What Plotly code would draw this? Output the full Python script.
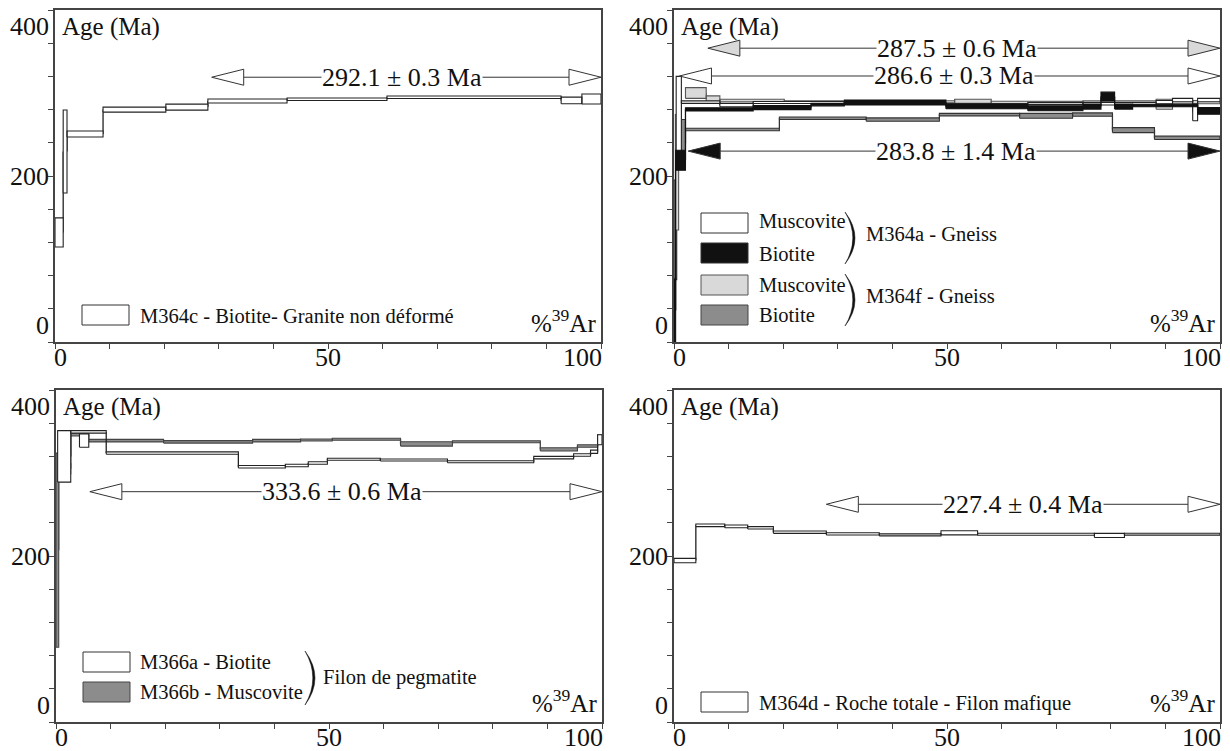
import plotly.graph_objects as go

W, H = 1230, 751
FONT = "Liberation Serif"

# ---------------- data (cumulative %39Ar start/end, age Ma, 1-sigma half height) ----------------
# Panel 1 : M364c - Biotite - Granite non déformé
c_x0 = [0.0, 1.5, 2.2, 8.8, 20.3, 28.0, 42.5, 60.8, 92.7, 96.5]
c_x1 = [1.5, 2.2, 8.8, 20.3, 28.0, 42.5, 60.8, 92.7, 96.5, 100.0]
c_age = [132, 229.5, 250.6, 280, 283, 290.4, 292.4, 294.8, 291, 292.8]
c_err = [17.5, 50, 3.6, 3, 3.6, 2.4, 1.5, 1.5, 4, 6]

# Panel 2 : M364a / M364f - Gneiss
a_mus_x0 = [0.4, 1.35, 8.4, 14.5, 31.2, 49.8, 64.8, 74.9, 88.3, 91.3, 95.0, 95.9]
a_mus_x1 = [1.35, 8.4, 14.5, 31.2, 49.8, 64.8, 74.9, 88.3, 91.3, 95.0, 95.9, 100.0]
a_mus_age = [266, 289, 285.5, 288.5, 287.5, 286, 287.5, 287, 289, 291.5, 276.6, 291.5]
a_mus_err = [54, 1.5, 2, 1.2, 1, 1.2, 1.2, 1.5, 2, 2, 10, 2]

a_bio_x0 = [0.0, 0.3, 2.1, 14.5, 25.1, 31.2, 49.8, 64.8, 74.9, 78.2, 80.7, 84.0, 95.9]
a_bio_x1 = [0.3, 2.1, 14.5, 25.1, 31.2, 49.8, 64.8, 74.9, 78.2, 80.7, 84.0, 95.9, 100.0]
a_bio_age = [38, 219, 280.3, 282.5, 286, 288.5, 283.5, 281.7, 283.6, 295.7, 283.6, 285, 278.5]
a_bio_err = [38, 12, 2, 2.5, 1.5, 3, 2.5, 3, 3, 5.3, 3, 1.5, 4]

f_mus_x0 = [0.25, 2.1, 5.9, 8.4, 20.2, 51.4, 58.1, 74.9, 88.3, 91.3]
f_mus_x1 = [0.85, 5.9, 8.4, 20.2, 51.4, 58.1, 74.9, 88.3, 91.3, 100.0]
f_mus_age = [204.5, 300, 292.5, 291, 289.5, 290, 288.5, 289, 286.5, 289]
f_mus_err = [69.5, 6.5, 4, 1.5, 1.2, 2.5, 1.5, 1.5, 6, 2]

f_bio_x0 = [0.0, 0.5, 2.1, 19.3, 35.2, 48.6, 63.3, 73.0, 80.3, 88.0]
f_bio_x1 = [0.5, 2.1, 19.3, 35.2, 48.6, 63.3, 73.0, 80.3, 88.0, 100.0]
f_bio_age = [135, 240, 256, 269.5, 268, 274, 272.5, 274, 255.3, 246]
f_bio_err = [60, 28, 1.5, 1.5, 2, 1.5, 3, 2, 3, 2]

# Panel 3 : M366a / M366b - Filon de pegmatite
m366a_x0 = [0.3, 2.7, 9.2, 33.4, 42.0, 46.2, 49.7, 59.4, 71.7, 87.5, 94.8, 97.9, 99.2, 4.3]
m366a_x1 = [2.7, 9.2, 33.4, 42.0, 46.2, 49.7, 59.4, 71.7, 87.5, 94.8, 97.9, 99.2, 100.0, 6.0]
m366a_age = [320, 349.5, 324, 307.6, 309, 312, 316.5, 315.7, 313.6, 318.5, 321.7, 325.6, 340, 339]
m366a_err = [31, 1.5, 1.5, 1.5, 1.5, 1.5, 1.2, 1.2, 1.2, 1.5, 1.5, 2, 6, 8]

m366b_x0 = [0.0, 0.5, 1.5, 2.7, 6.0, 19.7, 36.0, 44.8, 50.6, 63.1, 72.6, 88.7, 95.5, 99.2]
m366b_x1 = [0.5, 1.5, 2.7, 6.0, 19.7, 36.0, 44.8, 50.6, 63.1, 72.6, 88.7, 95.5, 99.2, 100.0]
m366b_age = [207, 300, 305, 346, 339, 337.5, 339, 339.8, 340.6, 335, 337.7, 328.5, 332.5, 342]
m366b_err = [117, 10, 6, 1.5, 1.5, 1.5, 1.5, 1.2, 1.2, 2.6, 1.2, 2, 1.5, 4]

# Panel 4 : M364d - Roche totale - Filon mafique
d_x0 = [0.0, 4.0, 9.3, 13.5, 18.2, 27.9, 37.6, 48.9, 55.6, 77.0, 82.5]
d_x1 = [4.0, 9.3, 13.5, 18.2, 27.9, 37.6, 48.9, 55.6, 77.0, 82.5, 100.0]
d_age = [194.5, 237, 235.7, 234, 228.7, 226.7, 225.5, 228, 226.2, 224.7, 226.3]
d_err = [2.6, 1.6, 1.6, 1.4, 1.4, 1.4, 1.2, 2.5, 1.2, 2.5, 1.2]

# Plateau arrows: panel, label, arrow level (Ma), left start (%), label centre (%), arrowhead fill
plateau_panel = [1, 2, 2, 2, 3, 4]
plateau_label = ["292.1 ± 0.3 Ma", "287.5 ± 0.6 Ma", "286.6 ± 0.3 Ma", "283.8 ± 1.4 Ma",
                 "333.6 ± 0.6 Ma", "227.4 ± 0.4 Ma"]
plateau_level = [319, 354, 320.5, 230, 277.5, 262.3]
plateau_start = [28.7, 6.2, 1.0, 2.6, 6.2, 27.9]
plateau_text_x = [63.6, 51.8, 51.2, 51.6, 52.4, 64.0]
plateau_fill = ["#ffffff", "#d9d9d9", "#ffffff", "#111111", "#ffffff", "#ffffff"]

x_tick_labels = [0, 50, 100]
y_tick_labels = [0, 200, 400]

# ---------------- layout geometry (pixels) ----------------
panels = {1: (55, 601, 10, 342), 2: (674, 1220, 10, 342),
          3: (56, 602, 390, 722), 4: (674, 1220, 390, 722)}


def sfx(i):
    return "" if i == 1 else str(i)


def P(xp, yp):
    return xp / W, 1 - yp / H


def boxes(x0, x1, age, err):
    xs, ys = [], []
    for a, b, m, e in zip(x0, x1, age, err):
        xs += [a, b, b, a, a, None]
        ys += [m - e, m - e, m + e, m + e, m - e, None]
    return xs, ys


def connectors(x0, x1, age):
    xs, ys = [], []
    for i in range(len(x0) - 1):
        if abs(x1[i] - x0[i + 1]) < 1e-9:
            xs += [x1[i], x1[i], None]
            ys += [age[i], age[i + 1], None]
    return xs, ys


fig = go.Figure()


def add_boxes(panel, x0, x1, age, err, fill, line):
    xa, ya = "x" + sfx(panel), "y" + sfx(panel)
    cx, cy = connectors(x0, x1, age)
    fig.add_trace(go.Scatter(x=cx, y=cy, mode="lines", line=dict(color=line, width=1.3),
                             xaxis=xa, yaxis=ya, hoverinfo="skip", showlegend=False))
    xs, ys = boxes(x0, x1, age, err)
    fig.add_trace(go.Scatter(x=xs, y=ys, mode="lines", fill="toself", fillcolor=fill,
                             line=dict(color=line, width=1.1), xaxis=xa, yaxis=ya,
                             hoverinfo="skip", showlegend=False))


add_boxes(1, c_x0, c_x1, c_age, c_err, "#ffffff", "#222222")
add_boxes(2, f_bio_x0, f_bio_x1, f_bio_age, f_bio_err, "#8c8c8c", "#333333")
add_boxes(2, f_mus_x0, f_mus_x1, f_mus_age, f_mus_err, "#d9d9d9", "#555555")
add_boxes(2, a_mus_x0, a_mus_x1, a_mus_age, a_mus_err, "#ffffff", "#222222")
add_boxes(2, a_bio_x0, a_bio_x1, a_bio_age, a_bio_err, "#111111", "#111111")
add_boxes(3, m366b_x0, m366b_x1, m366b_age, m366b_err, "#8c8c8c", "#444444")
add_boxes(3, m366a_x0, m366a_x1, m366a_age, m366a_err, "#ffffff", "#222222")
add_boxes(4, d_x0, d_x1, d_age, d_err, "#ffffff", "#222222")

# plateau arrows
HW = 32 / 5.46   # arrowhead length in %
HH = 8 / 0.83    # arrowhead half height in Ma
annotations = []
for pn, lab, lev, st, tx, col in zip(plateau_panel, plateau_label, plateau_level,
                                     plateau_start, plateau_text_x, plateau_fill):
    xa, ya = "x" + sfx(pn), "y" + sfx(pn)
    fig.add_trace(go.Scatter(x=[st + HW, 100 - HW], y=[lev, lev], mode="lines",
                             line=dict(color="#333333", width=1), xaxis=xa, yaxis=ya,
                             hoverinfo="skip", showlegend=False))
    hx = [st, st + HW, st + HW, st, None, 100, 100 - HW, 100 - HW, 100]
    hy = [lev, lev + HH, lev - HH, lev, None, lev, lev + HH, lev - HH, lev]
    fig.add_trace(go.Scatter(x=hx, y=hy, mode="lines", fill="toself", fillcolor=col,
                             line=dict(color="#333333", width=1), xaxis=xa, yaxis=ya,
                             hoverinfo="skip", showlegend=False))
    annotations.append(dict(x=tx, y=lev, xref=xa, yref=ya, text=lab, showarrow=False,
                            font=dict(family=FONT, size=26, color="#111"), bgcolor="#ffffff",
                            borderpad=0, xanchor="center", yanchor="middle"))

layout = dict(width=W, height=H, margin=dict(l=0, r=0, t=0, b=0), autosize=False,
              paper_bgcolor="white", plot_bgcolor="white", showlegend=False,
              font=dict(family=FONT, size=20, color="#111"))
for i, (xl, xr, yt, yb) in panels.items():
    s = sfx(i)
    layout["xaxis" + s] = dict(domain=[xl / W, xr / W], range=[0, 100], anchor="y" + s,
                               showline=True, mirror=True, linecolor="#444", linewidth=1.5,
                               ticks="outside", ticklen=5, tickcolor="#444", tick0=0, dtick=10,
                               showticklabels=False, showgrid=False, zeroline=False, fixedrange=True)
    layout["yaxis" + s] = dict(domain=[1 - yb / H, 1 - yt / H], range=[0, 400], anchor="x" + s,
                               showline=True, mirror=True, linecolor="#444", linewidth=1.5,
                               ticks="outside", ticklen=5, tickcolor="#444", tick0=0, dtick=40,
                               showticklabels=False, showgrid=False, zeroline=False, fixedrange=True)
    for v in x_tick_labels:
        anc = {0: "left", 50: "center", 100: "right"}[v]
        sh = {0: -3, 50: 0, 100: 3}[v]
        annotations.append(dict(x=v, y=0, xref="x" + s, yref="y" + s + " domain", text=str(v),
                                showarrow=False, xanchor=anc, yanchor="top", xshift=sh, yshift=1,
                                font=dict(family=FONT, size=26, color="#111")))
    for v in y_tick_labels:
        anc = {0: "bottom", 200: "middle", 400: "top"}[v]
        annotations.append(dict(x=0, y=v, xref="x" + s + " domain", yref="y" + s, text=str(v),
                                showarrow=False, xanchor="right", yanchor=anc, xshift=-4,
                                font=dict(family=FONT, size=26, color="#111")))
    annotations.append(dict(x=0, y=1, xref="x" + s + " domain", yref="y" + s + " domain",
                            text="Age (Ma)", showarrow=False, xanchor="left", yanchor="top",
                            xshift=5, yshift=-1, font=dict(family=FONT, size=25, color="#111")))
    annotations.append(dict(x=1, y=0, xref="x" + s + " domain", yref="y" + s + " domain",
                            text="%<sup>39</sup>Ar", showarrow=False, xanchor="right",
                            yanchor="bottom", xshift=-3, yshift=3,
                            font=dict(family=FONT, size=25, color="#111")))

shapes = []


def legend_box(xl, yt, fill, line="#333"):
    x0, y1 = P(xl, yt)
    x1, y0 = P(xl + 47, yt + 20)
    shapes.append(dict(type="rect", xref="paper", yref="paper", x0=x0, x1=x1, y0=y0, y1=y1,
                       fillcolor=fill, line=dict(color=line, width=1)))


def legend_text(xl, yc, text, size=20.5):
    x, y = P(xl, yc)
    annotations.append(dict(x=x, y=y, xref="paper", yref="paper", text=text, showarrow=False,
                            xanchor="left", yanchor="middle",
                            font=dict(family=FONT, size=size, color="#111")))


def paren(x0, yt, yb, bulge=10, thick=2.2):
    ym = (yt + yb) / 2
    pts = [P(x0, yt), P(x0 + 2 * bulge, ym), P(x0, yb), P(x0 + 2 * bulge - 2 * thick, ym)]
    path = (f"M {pts[0][0]},{pts[0][1]} Q {pts[1][0]},{pts[1][1]} {pts[2][0]},{pts[2][1]} "
            f"Q {pts[3][0]},{pts[3][1]} {pts[0][0]},{pts[0][1]} Z")
    shapes.append(dict(type="path", xref="paper", yref="paper", path=path,
                       fillcolor="#111", line=dict(color="#111", width=0.5)))


# panel 1 legend
legend_box(82, 305, "#ffffff")
legend_text(138, 316, "M364c - Biotite- Granite non déformé")
# panel 2 legend
legend_box(701, 213, "#ffffff")
legend_box(701, 243, "#111111")
legend_box(701, 275, "#d9d9d9", "#555")
legend_box(701, 305, "#8c8c8c", "#444")
legend_text(757, 221, "Muscovite")
legend_text(757, 254, "Biotite")
legend_text(757, 285, "Muscovite")
legend_text(757, 315, "Biotite")
paren(845, 212, 264)
paren(845, 274, 326)
legend_text(864, 234, "M364a - Gneiss")
legend_text(864, 296, "M364f - Gneiss")
# panel 3 legend
legend_box(83, 652, "#ffffff")
legend_box(83, 682, "#8c8c8c", "#444")
legend_text(138, 662, "M366a - Biotite")
legend_text(138, 692, "M366b - Muscovite")
paren(305, 651, 705)
legend_text(321, 677, "Filon de pegmatite")
# panel 4 legend
legend_box(701, 692, "#ffffff")
legend_text(757, 703, "M364d - Roche totale - Filon mafique")

layout["annotations"] = annotations
layout["shapes"] = shapes
fig.update_layout(**layout)

fig.write_html("out.html", config={"displayModeBar": False},
               post_script="document.body.style.margin='0';document.body.style.overflow='hidden';")
